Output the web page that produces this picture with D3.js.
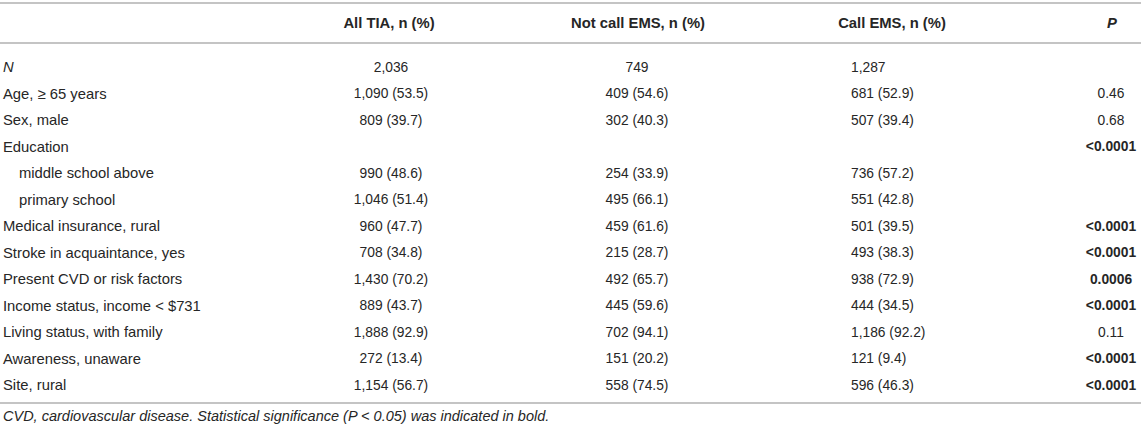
<!DOCTYPE html>
<html lang="en">
<head>
  <meta charset="UTF-8">
  <title>TIA table</title>
  <script src="https://cdn.jsdelivr.net/npm/d3@7"></script>
  <style>
    body { margin: 0; background: #fff; }
    text { font-family: "Liberation Sans", Arial, Helvetica, sans-serif; fill: #262626; }
  </style>
</head>
<body>
  <svg width="1143" height="432"></svg>
  <script>
    // table content
    var headers = ['All TIA, n (%)', 'Not call EMS, n (%)', 'Call EMS, n (%)', 'P'];
    var labels = ['N', 'Age, \u2265 65 years', 'Sex, male', 'Education', 'middle school above', 'primary school',
      'Medical insurance, rural', 'Stroke in acquaintance, yes', 'Present CVD or risk factors',
      'Income status, income < $731', 'Living status, with family', 'Awareness, unaware', 'Site, rural'];
    var indented = [false, false, false, false, true, true, false, false, false, false, false, false, false];
    var allTIA = ['2,036', '1,090 (53.5)', '809 (39.7)', '', '990 (48.6)', '1,046 (51.4)', '960 (47.7)',
      '708 (34.8)', '1,430 (70.2)', '889 (43.7)', '1,888 (92.9)', '272 (13.4)', '1,154 (56.7)'];
    var notCall = ['749', '409 (54.6)', '302 (40.3)', '', '254 (33.9)', '495 (66.1)', '459 (61.6)',
      '215 (28.7)', '492 (65.7)', '445 (59.6)', '702 (94.1)', '151 (20.2)', '558 (74.5)'];
    var callEMS = ['1,287', '681 (52.9)', '507 (39.4)', '', '736 (57.2)', '551 (42.8)', '501 (39.5)',
      '493 (38.3)', '938 (72.9)', '444 (34.5)', '1,186 (92.2)', '121 (9.4)', '596 (46.3)'];
    var pValues = ['', '0.46', '0.68', '<0.0001', '', '', '<0.0001', '<0.0001', '0.0006', '<0.0001',
      '0.11', '<0.0001', '<0.0001'];
    var caption = 'CVD, cardiovascular disease. Statistical significance (P < 0.05) was indicated in bold.';

    var svg = d3.select('svg');
    var width = +svg.attr('width');
    var lineColor = '#c4c4c4';

    var y = d3.scalePoint()
      .domain(d3.range(labels.length))
      .range([67, 385]);

    // rules
    [3, 43, 403].forEach(function(ly) {
      svg.append('line')
        .attr('x1', 0).attr('x2', width - 2)
        .attr('y1', ly).attr('y2', ly)
        .attr('stroke', lineColor)
        .attr('stroke-width', 2);
    });

    // header
    var headX = [389, 638, 892, 1112];
    svg.selectAll('.head')
      .data(headers)
      .enter().append('text')
      .attr('class', 'head')
      .attr('x', function(d, i) { return headX[i]; })
      .attr('y', 23)
      .attr('dy', '0.35em')
      .attr('text-anchor', 'middle')
      .style('font-size', '14.8px')
      .style('font-weight', 'bold')
      .style('font-style', function(d) { return d === 'P' ? 'italic' : 'normal'; })
      .text(function(d) { return d; });

    // row labels
    svg.selectAll('.label')
      .data(labels)
      .enter().append('text')
      .attr('class', 'label')
      .attr('x', function(d, i) { return indented[i] ? 19 : 3; })
      .attr('y', function(d, i) { return y(i); })
      .attr('dy', '0.35em')
      .style('font-size', '14.8px')
      .style('font-style', function(d) { return d === 'N' ? 'italic' : 'normal'; })
      .text(function(d) { return d; });

    function column(values, x, anchor, cls) {
      svg.selectAll('.' + cls)
        .data(values)
        .enter().append('text')
        .attr('class', cls)
        .attr('x', x)
        .attr('y', function(d, i) { return y(i); })
        .attr('dy', '0.35em')
        .attr('text-anchor', anchor)
        .style('font-size', '13.8px')
        .text(function(d) { return d; });
    }
    column(allTIA, 391, 'middle', 'c1');
    column(notCall, 637, 'middle', 'c2');
    column(callEMS, 851, 'start', 'c3');

    // P values, bold when significant
    svg.selectAll('.pv')
      .data(pValues)
      .enter().append('text')
      .attr('class', 'pv')
      .attr('x', 1111)
      .attr('y', function(d, i) { return y(i); })
      .attr('dy', '0.35em')
      .attr('text-anchor', 'middle')
      .style('font-size', '13.8px')
      .style('font-weight', function(d) { return d !== '' && +d.replace('<', '') < 0.05 ? 'bold' : 'normal'; })
      .text(function(d) { return d; });

    svg.append('text')
      .attr('x', 3)
      .attr('y', 416)
      .attr('dy', '0.35em')
      .style('font-size', '14.5px')
      .style('font-style', 'italic')
      .text(caption);
  </script>
</body>
</html>
